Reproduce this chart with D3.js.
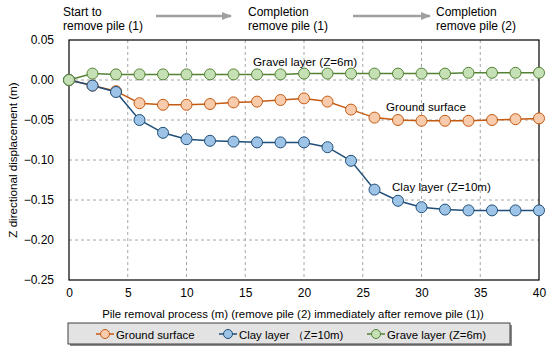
<!DOCTYPE html>
<html>
<head>
<meta charset="utf-8">
<script src="https://cdn.jsdelivr.net/npm/d3@7"></script>
<style>
body { margin: 0; background: #fff; }
text { font-family: "Liberation Sans", Arial, sans-serif; fill: #000; }
</style>
</head>
<body>
<script>
var w = 550;
var h = 352;

// data
var steps = [0, 2, 4, 6, 8, 10, 12, 14, 16, 18, 20, 22, 24, 26, 28, 30, 32, 34, 36, 38, 40];
var ground = [0, -0.007, -0.014, -0.029, -0.031, -0.031, -0.030, -0.028, -0.027, -0.025, -0.023, -0.027, -0.037, -0.047, -0.050, -0.051, -0.051, -0.051, -0.050, -0.049, -0.048];
var clay = [0, -0.007, -0.015, -0.050, -0.066, -0.074, -0.076, -0.077, -0.078, -0.078, -0.078, -0.084, -0.101, -0.137, -0.151, -0.159, -0.162, -0.163, -0.163, -0.163, -0.163];
var gravel = [0, 0.008, 0.007, 0.007, 0.007, 0.007, 0.007, 0.007, 0.007, 0.007, 0.008, 0.008, 0.008, 0.008, 0.008, 0.008, 0.008, 0.009, 0.009, 0.009, 0.009];
var xTicks = [0, 5, 10, 15, 20, 25, 30, 35, 40];
var yTicks = [0.05, 0, -0.05, -0.10, -0.15, -0.20, -0.25];
var legendNames = ["Ground surface", "Clay layer \uff08Z=10m)", "Grave layer (Z=6m)"];

var series = [
  {vals: ground, line: "#c55a11", fill: "#f8cbad"},
  {vals: clay, line: "#1f4e79", fill: "#9dc3e6"},
  {vals: gravel, line: "#548235", fill: "#c5e0b4"}
];

var pl = 69, pr = 539, pt = 40, pb = 280;

var svg = d3.select("body").append("svg")
  .attr("width", w)
  .attr("height", h);

var x = d3.scaleLinear().domain([0, 40]).range([pl, pr]);
var y = d3.scaleLinear().domain([-0.25, 0.05]).range([pb, pt]);

// grid
svg.selectAll(".vgrid").data(xTicks.slice(1, -1)).enter().append("line")
  .attr("x1", d => x(d)).attr("x2", d => x(d))
  .attr("y1", pt).attr("y2", pb)
  .attr("stroke", "#a6a6a6").attr("stroke-dasharray", "3,3");
svg.selectAll(".hgrid").data(yTicks.slice(1, -1)).enter().append("line")
  .attr("x1", pl).attr("x2", pr)
  .attr("y1", d => y(d)).attr("y2", d => y(d))
  .attr("stroke", "#a6a6a6").attr("stroke-dasharray", "3,3");

// axes
var xAxis = svg.append("g").attr("transform", "translate(0," + pb + ")")
  .call(d3.axisBottom(x).tickValues(xTicks).tickSize(0).tickPadding(8));
var yAxis = svg.append("g").attr("transform", "translate(" + pl + ",0)")
  .call(d3.axisLeft(y).tickValues(yTicks).tickSize(0).tickPadding(15).tickFormat(d3.format(".2f")));
[xAxis, yAxis].forEach(function(g) {
  g.select(".domain").remove();
  g.selectAll("text").attr("font-size", 12).attr("fill", "#000");
});

// frame
svg.append("rect")
  .attr("x", pl).attr("y", pt)
  .attr("width", pr - pl).attr("height", pb - pt)
  .attr("fill", "none").attr("stroke", "#000").attr("stroke-width", 1.2);

// lines + markers
var line = d3.line().x((d, i) => x(steps[i])).y(d => y(d));
series.forEach(function(s) {
  svg.append("path").datum(s.vals)
    .attr("d", line)
    .attr("fill", "none").attr("stroke", s.line).attr("stroke-width", 1.5);
});
series.forEach(function(s, k) {
  svg.selectAll(".m" + k).data(s.vals).enter().append("circle")
    .attr("cx", (d, i) => x(steps[i]))
    .attr("cy", d => y(d))
    .attr("r", 5.5)
    .attr("fill", s.fill).attr("stroke", s.line).attr("stroke-width", 1);
});

// labels in plot
svg.append("text").attr("x", 253).attr("y", 66).attr("font-size", 11.7).text("Gravel layer (Z=6m)");
svg.append("text").attr("x", 386).attr("y", 111).attr("font-size", 11.6).text("Ground surface");
svg.append("text").attr("x", 392).attr("y", 191).attr("font-size", 11.6).text("Clay layer (Z=10m)");

// axis titles
svg.append("text").attr("x", 293).attr("y", 318)
  .attr("text-anchor", "middle").attr("font-size", 11.4)
  .text("Pile removal process (m) (remove pile (2) immediately after remove pile (1))");
svg.append("text")
  .attr("transform", "translate(17," + ((pt + pb) / 2) + ") rotate(-90)")
  .attr("text-anchor", "middle").attr("font-size", 11.6)
  .text("Z directional displacement (m)");

// top annotations
var notes = [
  {x: 63, l1: "Start to", l2: "remove pile (1)"},
  {x: 248, l1: "Completion", l2: "remove pile (1)"},
  {x: 436, l1: "Completion", l2: "remove pile (2)"}
];
notes.forEach(function(n) {
  svg.append("text").attr("x", n.x).attr("y", 16).attr("font-size", 12).text(n.l1);
  svg.append("text").attr("x", n.x).attr("y", 29.5).attr("font-size", 12).text(n.l2);
});
svg.append("defs").append("marker")
  .attr("id", "arr").attr("viewBox", "0 0 10 10")
  .attr("refX", 9).attr("refY", 5)
  .attr("markerWidth", 4).attr("markerHeight", 4)
  .attr("orient", "auto")
  .append("path").attr("d", "M0,1 L10,5 L0,9 z").attr("fill", "#a0a0a0");
[[156, 231], [353, 430]].forEach(function(a) {
  svg.append("line").attr("x1", a[0]).attr("x2", a[1]).attr("y1", 16).attr("y2", 16)
    .attr("stroke", "#a0a0a0").attr("stroke-width", 2.5).attr("marker-end", "url(#arr)");
});

// legend
svg.append("rect").attr("x", 70).attr("y", 325).attr("width", 442).attr("height", 21).attr("fill", "#8a8a8a");
svg.append("rect").attr("x", 68).attr("y", 323).attr("width", 442).attr("height", 21)
  .attr("fill", "#e3e3e3").attr("stroke", "#404040").attr("stroke-width", 1);
var legX = [96, 219, 367];
legendNames.forEach(function(name, k) {
  var s = series[k];
  var g = svg.append("g").attr("transform", "translate(" + legX[k] + ",334)");
  g.append("line").attr("x1", 0).attr("x2", 18).attr("stroke", s.line).attr("stroke-width", 1.5);
  g.append("circle").attr("cx", 9).attr("r", 4.5).attr("fill", s.fill).attr("stroke", s.line);
  g.append("text").attr("x", 20).attr("y", 4.5).attr("font-size", 11.4).text(name);
});
</script>
</body>
</html>
